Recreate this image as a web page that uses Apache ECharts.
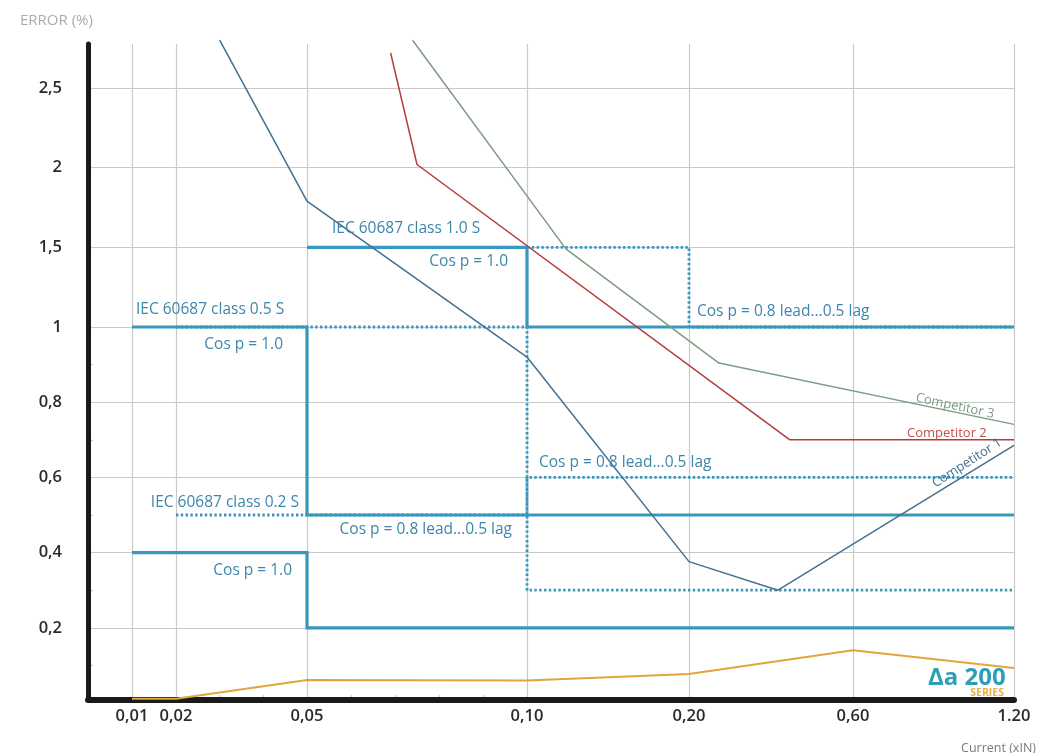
<!DOCTYPE html>
<html>
<head>
<meta charset="utf-8">
<script src="https://cdn.jsdelivr.net/npm/echarts@6/dist/echarts.min.js"></script>
<style>
html,body{margin:0;padding:0;background:#fff;}
#chart{width:1040px;height:753px;}
</style>
</head>
<body>
<div id="chart"></div>
<script>
// ---- tick labels ----
const xTickVals = [0.01, 0.02, 0.05, 0.10, 0.20, 0.60, 1.20];
const xTickLabels = ['0,01', '0,02', '0,05', '0,10', '0,20', '0,60', '1.20'];
const xMinorVals = [0.03, 0.04, 0.06, 0.07, 0.08, 0.09];
const yTickVals = [0.2, 0.4, 0.6, 0.8, 1, 1.5, 2, 2.5];
const yTickLabels = ['0,2', '0,4', '0,6', '0,8', '1', '1,5', '2', '2,5'];
const yMinorVals = [0.1, 0.3, 0.5, 0.7, 0.9];

// ---- series values (current xIN, error %) ----
const comp1X = [0.030, 0.05, 0.10, 0.20, 0.417, 1.20];
const comp1Y = [2.80, 1.79, 0.92, 0.376, 0.30, 0.685];
const comp2X = [0.069, 0.075, 0.446, 1.20];
const comp2Y = [2.72, 2.02, 0.70, 0.70];
const comp3X = [0.074, 0.124, 0.273, 1.20];
const comp3Y = [2.80, 1.49, 0.904, 0.741];
const aaX = [0.01, 0.02, 0.05, 0.10, 0.20, 0.60, 1.20];
const aaY = [0.011, 0.011, 0.061, 0.060, 0.077, 0.140, 0.093];

// IEC limits
const c10SolidX = [0.05, 0.10, 0.10, 1.20];
const c10SolidY = [1.5, 1.5, 1.0, 1.0];
const c10DotX = [0.10, 0.20, 0.20, 1.20];
const c10DotY = [1.5, 1.5, 1.0, 1.0];
const c05SolidX = [0.01, 0.05, 0.05, 1.20];
const c05SolidY = [1.0, 1.0, 0.5, 0.5];
const c05DotX = [0.02, 0.10, 0.10, 1.20];
const c05DotY = [1.0, 1.0, 0.6, 0.6];
const c02SolidX = [0.01, 0.05, 0.05, 1.20];
const c02SolidY = [0.4, 0.4, 0.2, 0.2];
const c02DotX = [0.02, 0.10, 0.10, 0.10, 1.20];
const c02DotY = [0.5, 0.5, 0.6, 0.3, 0.3];

// ---- axis scale layout (piecewise, non-uniform brochure axes) ----
const xAnchorPos = [44, 88, 219, 439, 601, 765, 926];
const yAnchorVals = [0, 1, 2.5];
const yAnchorPos = [0, 376, 615];

function interp(v, vals, pos) {
  let i = 0;
  while (i < vals.length - 2 && v > vals[i + 1]) i++;
  const t = (v - vals[i]) / (vals[i + 1] - vals[i]);
  return pos[i] + t * (pos[i + 1] - pos[i]);
}
const sx = v => interp(v, xTickVals, xAnchorPos);
const sy = v => interp(v, yAnchorVals, yAnchorPos);
const pts = (xs, ys) => xs.map((x, i) => [sx(x), sy(ys[i])]);

const BLUE = '#3897bf';
const TXT = '#3d86ab';
const FONT = "'Open Sans', 'Noto Sans', sans-serif";

function limitSeries(name, xs, ys, dotted) {
  return {
    name, type: 'line', data: pts(xs, ys), showSymbol: false, silent: true,
    z: dotted ? 3 : 4, clip: false,
    lineStyle: dotted ? { color: BLUE, width: 2.8, type: [2.4, 2.4], cap: 'butt' }
                      : { color: BLUE, width: 3.2, join: 'miter' }
  };
}
function compSeries(name, xs, ys, color) {
  return {
    name, type: 'line', data: pts(xs, ys), showSymbol: false, silent: true,
    z: 5, clip: false, lineStyle: { color, width: 1.5 }
  };
}

const chart = echarts.init(document.getElementById('chart'));

const gridLines = [];
xTickVals.forEach(v => gridLines.push({ xAxis: sx(v) }));
yTickVals.forEach(v => gridLines.push({ yAxis: sy(v) }));
const tickLines = [];
yMinorVals.concat(yTickVals).forEach(v => tickLines.push([{ coord: [0, sy(v)] }, { coord: [5, sy(v)] }]));
xMinorVals.forEach(v => tickLines.push([{ coord: [sx(v), 3] }, { coord: [sx(v), 8] }]));

function txt(text, x, y, align, color, size, rot, weight) {
  return {
    type: 'text', x, y, rotation: rot || 0, z: 20,
    style: { text, fill: color || TXT, font: (weight || 'normal') + ' ' + (size || 15.5) + 'px ' + FONT,
             textAlign: align || 'left', textVerticalAlign: 'middle' }
  };
}

chart.setOption({
  animation: false,
  backgroundColor: '#fff',
  grid: { left: 88, right: 26, top: 44, bottom: 53 },
  xAxis: {
    type: 'value', min: 0, max: 926,
    splitLine: { show: false }, axisTick: { show: false },
    axisLine: { onZero: false, lineStyle: { color: '#1a1a1a', width: 6 } },
    axisLabel: {
      customValues: xAnchorPos, margin: 8,
      color: '#2a2a2a', fontSize: 16.5, fontWeight: 600, fontFamily: FONT,
      formatter: v => { const i = xAnchorPos.findIndex(p => Math.abs(p - v) < 0.5); return i >= 0 ? xTickLabels[i] : ''; }
    }
  },
  yAxis: {
    type: 'value', min: 3, max: 659,
    splitLine: { show: false }, axisTick: { show: false },
    axisLine: { show: true, onZero: false, lineStyle: { color: '#1a1a1a', width: 5 } },
    axisLabel: {
      customValues: yTickVals.map(sy), margin: 26,
      color: '#2a2a2a', fontSize: 16.5, fontWeight: 600, fontFamily: FONT,
      formatter: v => { const i = yTickVals.findIndex(t => Math.abs(sy(t) - v) < 0.5); return i >= 0 ? yTickLabels[i] : ''; }
    }
  },
  series: [
    {
      name: 'grid', type: 'line', data: [], silent: true, z: 0,
      markLine: {
        silent: true, symbol: 'none', label: { show: false }, animation: false, z: 0,
        lineStyle: { color: '#c9c9c9', width: 1.2, type: 'solid' },
        data: gridLines.concat(tickLines)
      }
    },
    limitSeries('class 1.0 S dotted', c10DotX, c10DotY, true),
    limitSeries('class 0.5 S dotted', c05DotX, c05DotY, true),
    limitSeries('class 0.2 S dotted', c02DotX, c02DotY, true),
    limitSeries('class 1.0 S', c10SolidX, c10SolidY, false),
    limitSeries('class 0.5 S', c05SolidX, c05SolidY, false),
    limitSeries('class 0.2 S', c02SolidX, c02SolidY, false),
    compSeries('Competitor 1', comp1X, comp1Y, '#44708f'),
    compSeries('Competitor 2', comp2X, comp2Y, '#b53b3b'),
    compSeries('Competitor 3', comp3X, comp3Y, '#7d9c80'),
    {
      name: 'Aa 200 Series', type: 'line', data: pts(aaX, aaY), showSymbol: false, silent: true,
      z: 6, clip: false, lineStyle: { color: '#e3a43c', width: 2 }
    }
  ],
  graphic: [
    txt('ERROR (%)', 20, 21, 'left', '#ababab', 15),
    txt('Current (xIN)', 1036, 748, 'right', '#7a7a7a', 12.5),
    txt('IEC 60687 class 1.0 S', 332, 229, 'left'),
    txt('Cos p = 1.0', 508, 262, 'right'),
    txt('IEC 60687 class 0.5 S', 136, 310, 'left'),
    txt('Cos p = 1.0', 283, 345, 'right'),
    txt('Cos p = 0.8 lead...0.5 lag', 697, 312, 'left'),
    txt('Cos p = 0.8 lead...0.5 lag', 539, 463, 'left'),
    txt('IEC 60687 class 0.2 S', 299, 503, 'right'),
    txt('Cos p = 0.8 lead...0.5 lag', 512, 530, 'right'),
    txt('Cos p = 1.0', 292, 571, 'right'),
    txt('Competitor 3', 955, 406, 'center', '#7d9c80', 13, -0.21),
    txt('Competitor 2', 907, 433, 'left', '#c0504d', 13),
    txt('Competitor 1', 967, 463, 'center', '#44708f', 13, 0.57),
    txt('\u0394a 200', 928, 678, 'left', '#2b9fb8', 24, 0, 'bold'),
    txt('SERIES', 1004, 693, 'right', '#e8b040', 10.5, 0, 'bold')
  ]
});
</script>
</body>
</html>
